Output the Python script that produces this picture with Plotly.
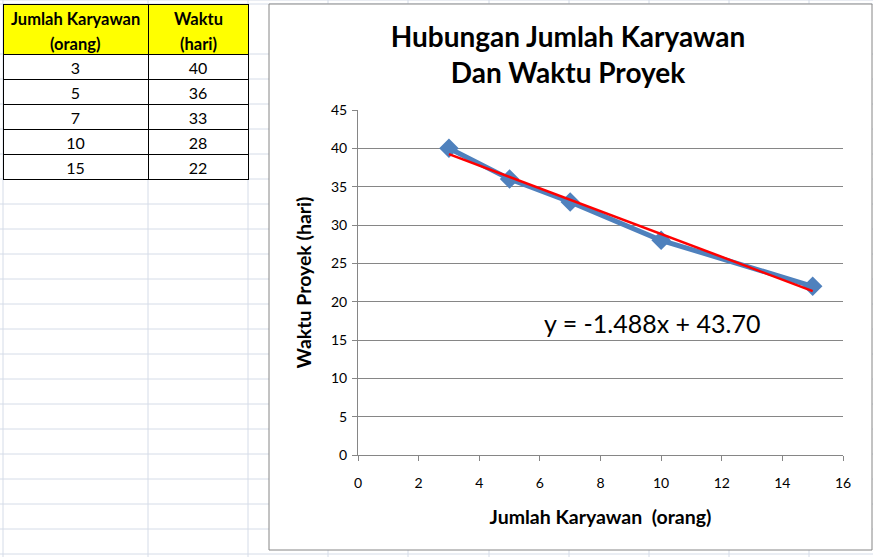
import numpy as np
import plotly.graph_objects as go

W, H = 873, 557

# data from the worksheet table
jumlah_karyawan = [3, 5, 7, 10, 15]
waktu_hari = [40, 36, 33, 28, 22]
header_lines = [["Jumlah Karyawan", "(orang)"], ["Waktu", "(hari)"]]
equation_text = "y = -1.488x + 43.70"

FONT = "Lato"
GRID = "#868686"
SHEET = "#D5DCE8"


def px(x):
    return x / W


def py(y):
    return 1 - y / H


# linear trendline like excel does it
slope, intercept = np.polyfit(jumlah_karyawan, waktu_hari, 1)
trend_x = [min(jumlah_karyawan), max(jumlah_karyawan)]
trend_y = [slope * v + intercept for v in trend_x]

fig = go.Figure()

fig.add_trace(go.Table(
    domain=dict(x=[px(3), px(248)], y=[0, py(4)]),
    columnwidth=[145, 100],
    header=dict(
        values=["", ""],
        fill_color="#FFFF00",
        line=dict(color="black", width=1),
        height=50,
    ),
    cells=dict(
        values=[jumlah_karyawan, waktu_hari],
        fill_color="white",
        line=dict(color="black", width=1),
        align="center",
        height=25,
        font=dict(family=FONT, size=16, color="black"),
    ),
))

fig.add_trace(go.Scatter(
    x=jumlah_karyawan,
    y=waktu_hari,
    mode="lines+markers",
    line=dict(color="#4F81BD", width=5),
    marker=dict(symbol="diamond", size=15, color="#4F81BD"),
    showlegend=False,
))

fig.add_trace(go.Scatter(
    x=trend_x,
    y=trend_y,
    mode="lines",
    line=dict(color="#FF0000", width=2.5),
    showlegend=False,
))

# spreadsheet grid behind everything
shapes = []
row_lines = [0, 4] + list(range(54, H + 1, 25))
col_lines = [3, 148, 248, 328, 408, 489, 569, 649, 729, 809]
for y in row_lines:
    shapes.append(dict(type="line", xref="paper", yref="paper", x0=0, x1=1,
                       y0=py(y), y1=py(y), line=dict(color=SHEET, width=1), layer="below"))
for x in col_lines:
    shapes.append(dict(type="line", xref="paper", yref="paper", x0=px(x), x1=px(x),
                       y0=0, y1=1, line=dict(color=SHEET, width=1), layer="below"))
# chart area
shapes.append(dict(type="rect", xref="paper", yref="paper", x0=px(269), x1=px(872),
                   y0=py(550), y1=py(4), line=dict(color=GRID, width=1),
                   fillcolor="white", layer="below"))

annotations = [dict(
    text=equation_text, x=9.7, y=17.2, xref="x", yref="y",
    showarrow=False, xanchor="center", yanchor="middle",
    font=dict(family=FONT, size=25, color="black"),
)]
# header text of the table, one line at a time so it stays centred
header_centers = [75.5, 198]
for cx, lines in zip(header_centers, header_lines):
    for i, line in enumerate(lines):
        annotations.append(dict(
            text="<b>" + line + "</b>", x=px(cx), y=py(19 + 25 * i),
            xref="paper", yref="paper", showarrow=False,
            xanchor="center", yanchor="middle",
            font=dict(family=FONT, size=16.5, color="black"),
        ))

fig.update_layout(
    width=W,
    height=H,
    autosize=False,
    margin=dict(l=0, r=0, t=0, b=0),
    paper_bgcolor="white",
    plot_bgcolor="rgba(0,0,0,0)",
    font=dict(family=FONT, color="black"),
    shapes=shapes,
    annotations=annotations,
    title=dict(
        text="<b>Hubungan Jumlah Karyawan<br>Dan Waktu Proyek</b>",
        x=px(568), y=py(47), xanchor="center", yanchor="middle",
        xref="paper", yref="paper",
        font=dict(family=FONT, size=28, color="black"),
    ),
    xaxis=dict(
        domain=[px(358), px(843)],
        range=[0, 16],
        dtick=2,
        showgrid=False,
        zeroline=False,
        showline=True,
        linecolor=GRID,
        ticks="outside",
        ticklen=5,
        tickcolor=GRID,
        ticklabelstandoff=10,
        tickfont=dict(family=FONT, size=14),
        title=dict(text="<b>Jumlah Karyawan  (orang)</b>", standoff=20,
                   font=dict(family=FONT, size=19.5)),
        automargin=False,
    ),
    yaxis=dict(
        domain=[py(455), py(110)],
        range=[0, 45],
        dtick=5,
        showgrid=True,
        gridcolor=GRID,
        zeroline=False,
        showline=True,
        linecolor=GRID,
        ticks="outside",
        ticklen=5,
        tickcolor=GRID,
        ticklabelstandoff=2,
        tickfont=dict(family=FONT, size=14),
        title=dict(text="<b>Waktu Proyek (hari)</b>", standoff=14,
                   font=dict(family=FONT, size=19.5)),
        automargin=False,
    ),
)

fig.write_html("out.html", config={"displayModeBar": False},
               post_script="document.body.style.margin='0';")
